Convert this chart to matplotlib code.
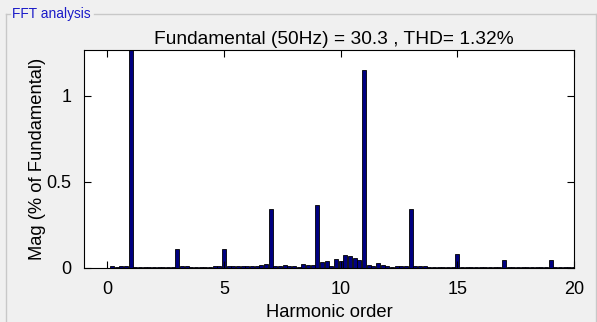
import matplotlib
matplotlib.use("Agg")
import matplotlib.pyplot as plt
from matplotlib.lines import Line2D

plt.rcParams['font.family'] = ['Liberation Sans', 'DejaVu Sans']

# harmonic order axis: 0 .. 20 in 0.2 steps (10 Hz resolution at 50 Hz fundamental)
orders = [round(i * 0.2, 1) for i in range(101)]
mags = [
    0.000, 0.010, 0.005, 0.013, 0.013,   # 0.0 - 0.8
    100.0, 0.005, 0.005, 0.005, 0.005,   # 1.0 - 1.8
    0.005, 0.005, 0.006, 0.006, 0.006,   # 2.0 - 2.8
    0.110, 0.010, 0.010, 0.005, 0.006,   # 3.0 - 3.8
    0.004, 0.004, 0.006, 0.009, 0.012,   # 4.0 - 4.8
    0.112, 0.013, 0.013, 0.010, 0.013,   # 5.0 - 5.8
    0.010, 0.011, 0.013, 0.020, 0.022,   # 6.0 - 6.8
    0.345, 0.010, 0.010, 0.019, 0.010,   # 7.0 - 7.8
    0.011, 0.008, 0.023, 0.017, 0.017,   # 8.0 - 8.8
    0.368, 0.035, 0.043, 0.014, 0.052,   # 9.0 - 9.8
    0.040, 0.074, 0.070, 0.058, 0.048,   # 10.0 - 10.8
    1.153, 0.020, 0.013, 0.027, 0.015,   # 11.0 - 11.8
    0.013, 0.006, 0.013, 0.013, 0.013,   # 12.0 - 12.8
    0.340, 0.012, 0.012, 0.013, 0.006,   # 13.0 - 13.8
    0.006, 0.006, 0.008, 0.004, 0.004,   # 14.0 - 14.8
    0.083, 0.008, 0.008, 0.003, 0.003,   # 15.0 - 15.8
    0.003, 0.003, 0.003, 0.003, 0.003,   # 16.0 - 16.8
    0.046, 0.003, 0.003, 0.003, 0.003,   # 17.0 - 17.8
    0.003, 0.003, 0.003, 0.003, 0.003,   # 18.0 - 18.8
    0.046, 0.004, 0.004, 0.004, 0.004,   # 19.0 - 19.8
    0.004,                               # 20.0
]

title = "Fundamental (50Hz) = 30.3 , THD= 1.32%"
bg = '#F0F0F0'

fig = plt.figure(figsize=(5.97, 3.22), dpi=100, facecolor=bg)
ax = fig.add_axes([84 / 597, 1 - 268 / 322, 490 / 597, 218 / 322])

ax.bar(orders, mags, width=0.16, color='#000080', edgecolor='black', linewidth=0.6)
ax.set_xlim(-1, 20)
ax.set_ylim(0, 1.267)
ax.set_xticks([0, 5, 10, 15, 20])
ax.set_yticks([0, 0.5, 1])
ax.set_yticklabels(['0', '0.5', '1'])
ax.tick_params(direction='in', length=5, width=0.8, top=True, right=True,
               labelsize=13, pad=9)
for s in ax.spines.values():
    s.set_linewidth(0.8)

ax.set_title(title, fontsize=13.8, pad=4, x=0.51)
ax.set_xlabel('Harmonic order', fontsize=13.2, labelpad=5)
ax.set_ylabel('Mag (% of Fundamental)', fontsize=13.2)
ax.yaxis.set_label_coords(-0.078, 0.5)

# group box frame around the plot, as in the powergui panel
W, H = 597, 322
def px(x, y):
    return x / W, 1 - y / H
frame = '#C8C8C8'
for (x0, y0), (x1, y1) in [((6, 14), (6, 321)), ((6, 14), (10, 14)),
                           ((94, 14), (596, 14)), ((596, 14), (596, 321))]:
    a, b = px(x0, y0)
    c, d = px(x1, y1)
    fig.add_artist(Line2D([a, c], [b, d], color=frame, linewidth=1))
tx, ty = px(12, 14)
fig.text(tx, ty, 'FFT analysis', color='#1A1AC8', fontsize=9.9, va='center', ha='left')

fig.savefig('out.png', dpi=100, facecolor=bg)
